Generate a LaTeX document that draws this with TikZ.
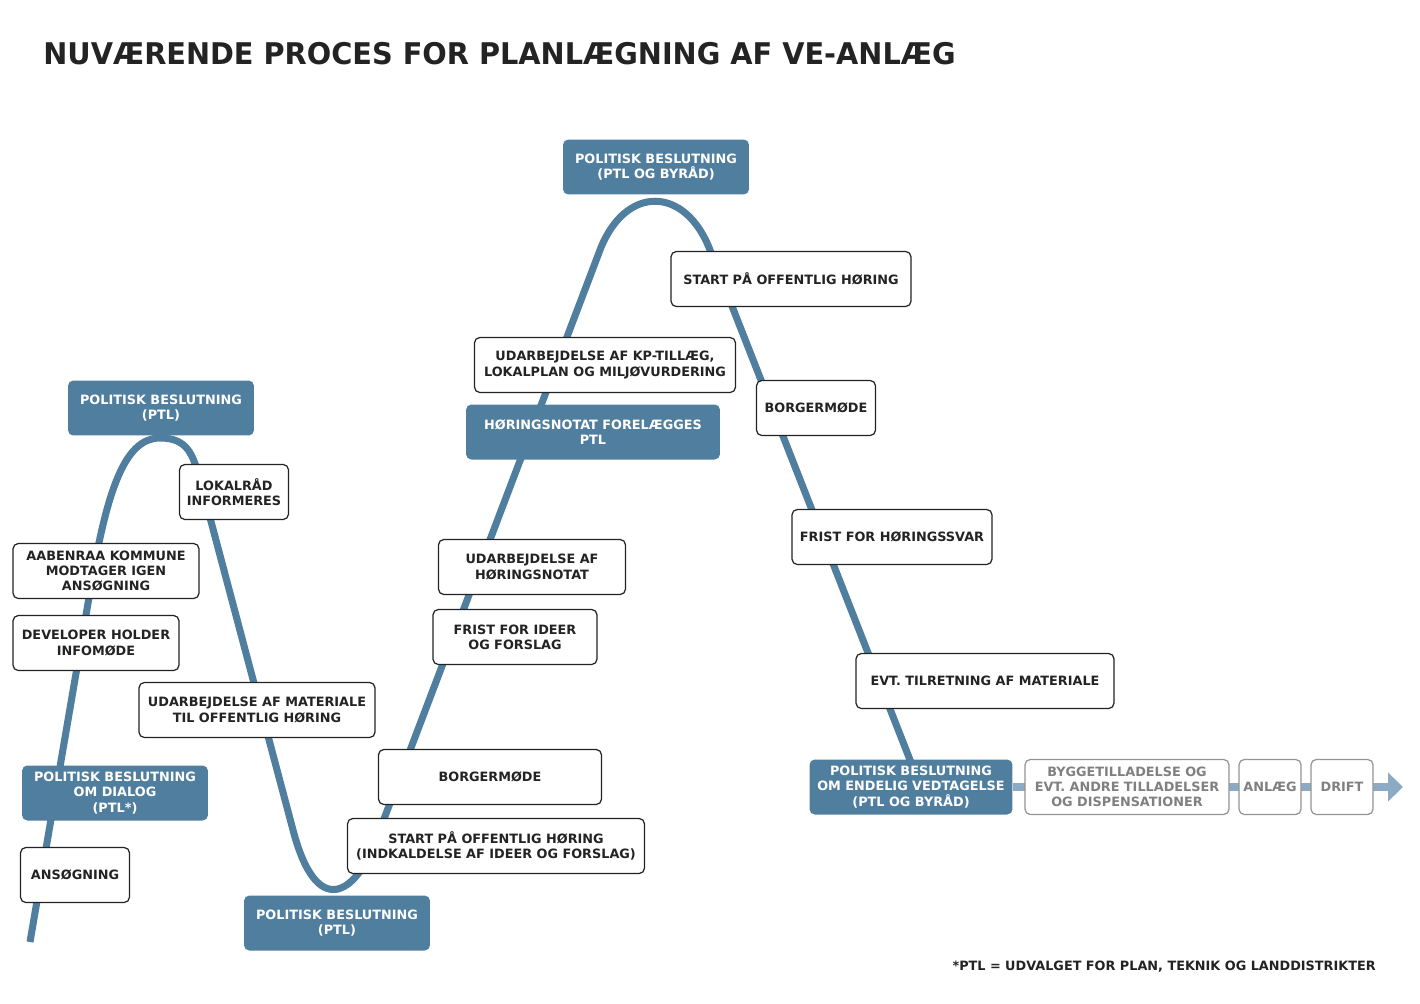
\documentclass[tikz,border=0pt]{standalone}
\usepackage{fontspec}
\setmainfont{DejaVu Sans}
\newfontfamily\titlefont[FakeStretch=0.963]{DejaVu Sans}
\usetikzlibrary{arrows.meta, backgrounds}
\definecolor{ptlblue}{RGB}{80, 126, 158}
\definecolor{flowblue}{RGB}{140, 170, 195}
\definecolor{darktext}{RGB}{35, 35, 35}
\definecolor{greytext}{RGB}{128, 128, 128}

\tikzset{
  stepfont/.style={font=\bfseries\fontsize{7.3}{8.6}\selectfont, align=center, minimum height=1.1cm, inner sep=2pt, rounded corners=3pt},
  ptlbox/.style={stepfont, fill=ptlblue, text=white},
  actbox/.style={stepfont, draw=darktext, line width=0.7pt, fill=white, text=darktext},
  laterbox/.style={stepfont, draw=greytext!85, line width=0.7pt, fill=white, text=greytext},
  procline/.style={ptlblue, line width=4pt},
  flowline/.style={flowblue, line width=4pt, -{Triangle[length=8.5pt,width=16pt]}}
}

\begin{document}
\begin{tikzpicture}[x=0.02cm, y=-0.02cm]
  \useasboundingbox (0,0) rectangle (1420,1004);

  % Title
  \node[anchor=west, inner sep=0, text=darktext, font=\titlefont\bfseries\fontsize{17}{20}\selectfont] (title) at (43,54) {NUVÆRENDE PROCES FOR PLANLÆGNING AF VE-ANLÆG};

  % Political decisions
  \node[ptlbox, minimum width=3.72cm] (dialog) at (115,793) {POLITISK BESLUTNING\\OM DIALOG\\(PTL*)};
  \node[ptlbox, minimum width=3.72cm] (ptlA) at (161,408) {POLITISK BESLUTNING\\(PTL)};
  \node[ptlbox, minimum width=3.72cm] (ptlB) at (337,923) {POLITISK BESLUTNING\\(PTL)};
  \node[ptlbox, minimum width=5.08cm] (horingsnotat) at (593,432) {HØRINGSNOTAT FORELÆGGES\\PTL};
  \node[ptlbox, minimum width=3.72cm] (ptlC) at (656,167) {POLITISK BESLUTNING\\(PTL OG BYRÅD)};
  \node[ptlbox, minimum width=4.06cm] (vedtag) at (911,787) {POLITISK BESLUTNING\\OM ENDELIG VEDTAGELSE\\(PTL OG BYRÅD)};

  % Steps along the process
  \node[actbox, minimum width=2.18cm] (ansog) at (75,875) {ANSØGNING};
  \node[actbox, minimum width=3.32cm] (infomode) at (96,643) {DEVELOPER HOLDER\\INFOMØDE};
  \node[actbox, minimum width=3.72cm] (modtager) at (106,571) {AABENRAA KOMMUNE\\MODTAGER IGEN\\ANSØGNING};
  \node[actbox, minimum width=2.18cm] (lokalraad) at (234,492) {LOKALRÅD\\INFORMERES};
  \node[actbox, minimum width=4.72cm] (materiale) at (257,710) {UDARBEJDELSE AF MATERIALE\\TIL OFFENTLIG HØRING};
  \node[actbox, minimum width=5.94cm] (startB) at (496,846) {START PÅ OFFENTLIG HØRING\\(INDKALDELSE AF IDEER OG FORSLAG)};
  \node[actbox, minimum width=4.46cm] (borgerB) at (490,777) {BORGERMØDE};
  \node[actbox, minimum width=3.28cm] (idefrist) at (515,637) {FRIST FOR IDEER\\OG FORSLAG};
  \node[actbox, minimum width=3.74cm] (notat) at (532,567) {UDARBEJDELSE AF\\HØRINGSNOTAT};
  \node[actbox, minimum width=5.22cm] (kptillaeg) at (605,365) {UDARBEJDELSE AF KP-TILLÆG,\\LOKALPLAN OG MILJØVURDERING};
  \node[actbox, minimum width=4.8cm] (startA) at (791,279) {START PÅ OFFENTLIG HØRING};
  \node[actbox, minimum width=2.38cm] (borgerA) at (816,408) {BORGERMØDE};
  \node[actbox, minimum width=4.0cm] (svarfrist) at (892,537) {FRIST FOR HØRINGSSVAR};
  \node[actbox, minimum width=5.16cm] (tilret) at (985,681) {EVT. TILRETNING AF MATERIALE};

  % After the final decision
  \node[laterbox, minimum width=4.08cm] (bygge) at (1127,787) {BYGGETILLADELSE OG\\EVT. ANDRE TILLADELSER\\OG DISPENSATIONER};
  \node[laterbox, minimum width=1.24cm] (anlaeg) at (1270,787) {ANLÆG};
  \node[laterbox, minimum width=1.24cm] (drift) at (1342,787) {DRIFT};
  \coordinate (flowend) at (1403,787);

  % Footnote
  \node[anchor=east, inner sep=0, text=darktext, font=\bfseries\fontsize{7.3}{8.6}\selectfont] (note) at (1376,967) {*PTL = UDVALGET FOR PLAN, TEKNIK OG LANDDISTRIKTER};

  % Process line behind the boxes
  \begin{scope}[on background layer]
    \draw[procline] (30,942) -- (92,580) .. controls (109,480) and (128,438) .. (160,438)
      .. controls (188,438) and (193,455) .. (200,480) -- (293,830)
      .. controls (316.6,920) and (355.5,895) .. (376,840) -- (600,250)
      .. controls (625,185) and (685,185) .. (710,250) -- (912,765);
    \draw[flowline] (vedtag.east) -- (flowend);
  \end{scope}
\end{tikzpicture}
\end{document}
